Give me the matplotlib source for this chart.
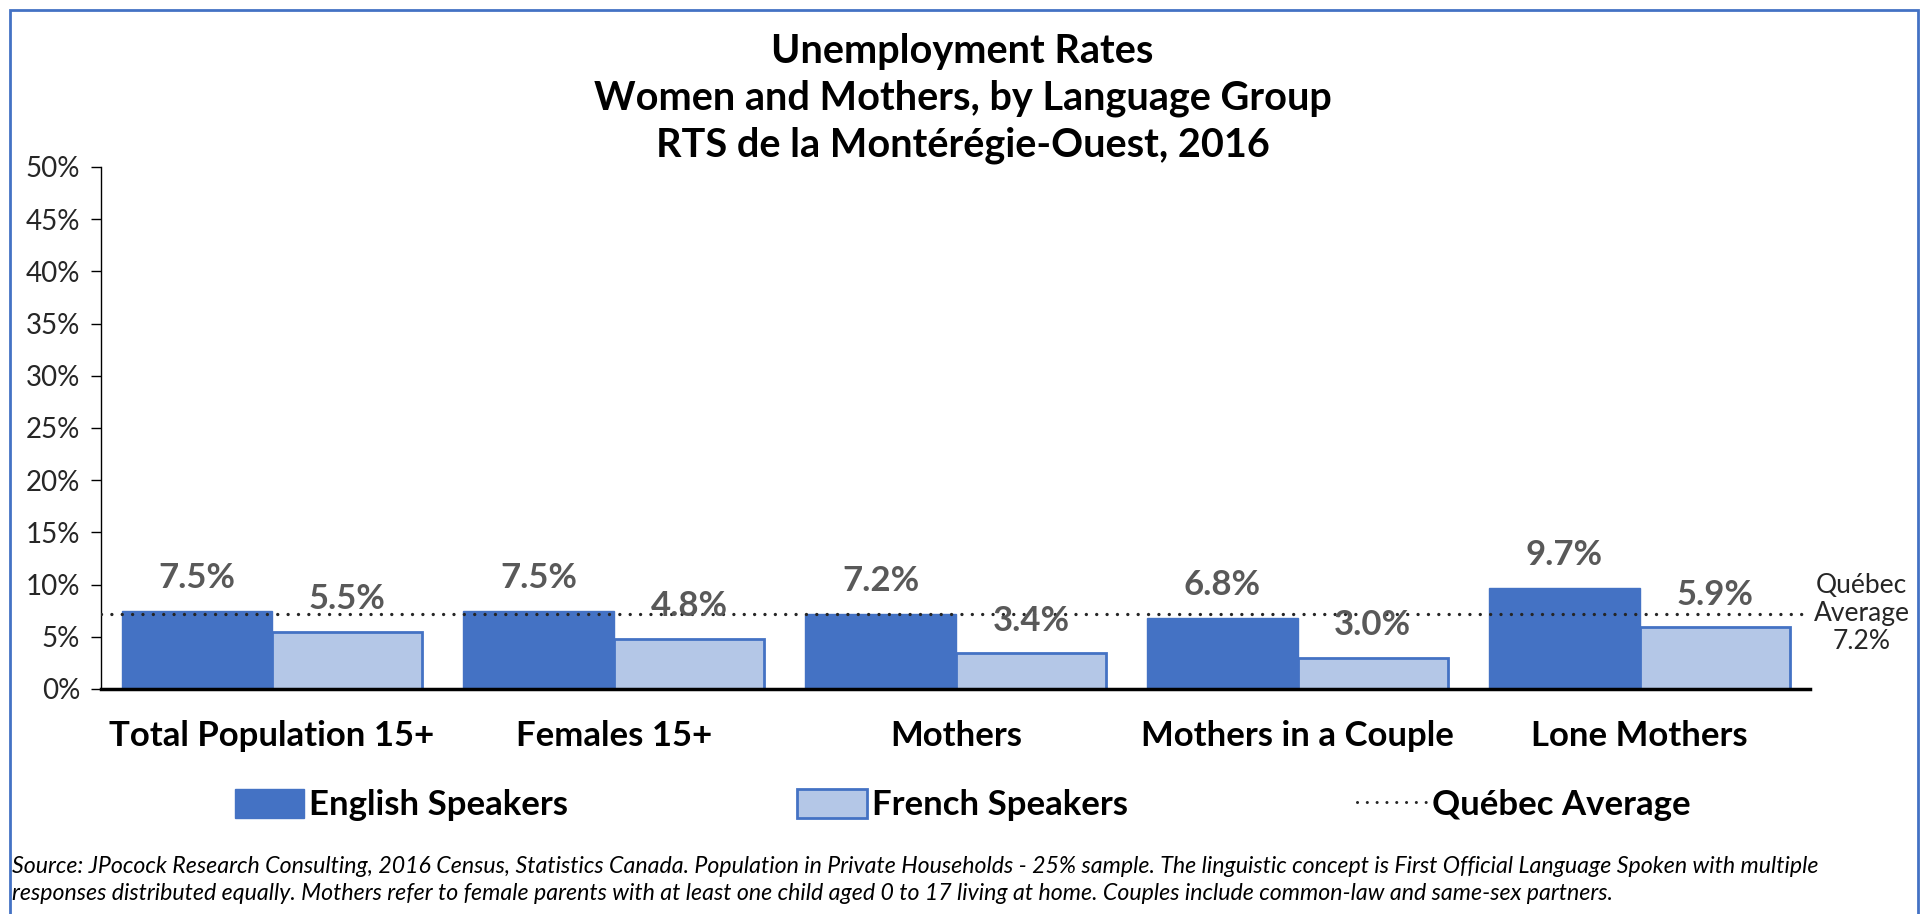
import matplotlib.pyplot as plt
from matplotlib.patches import Rectangle
from matplotlib.lines import Line2D
import numpy as np

plt.rcParams['font.family'] = ['Lato', 'DejaVu Sans']

#chart data
categories = ['Total Population 15+', 'Females 15+', 'Mothers', 'Mothers in a Couple', 'Lone Mothers']
english = [7.5, 7.5, 7.2, 6.8, 9.7]
french = [5.5, 4.8, 3.4, 3.0, 5.9]
quebecAvg = 7.2
yTicks = [0, 5, 10, 15, 20, 25, 30, 35, 40, 45, 50]

blue = '#4472C4'
lightBlue = '#B4C7E7'
labelGray = '#595959'
dark = '#262626'

fig = plt.figure(figsize=(19.25, 9.14), dpi=100)
ax = fig.add_axes([0.0525, 0.2462, 0.888, 0.5711])

x = np.arange(len(categories))
w = 0.44
ax.bar(x - w / 2, english, w, color=blue, edgecolor=blue, linewidth=1, zorder=2)
ax.bar(x + w / 2, french, w, color=lightBlue, edgecolor=blue, linewidth=2, zorder=2)

#value labels
for i in range(len(categories)):
    ax.annotate(f'{english[i]:.1f}%', (x[i] - w / 2, english[i]), xytext=(0, 12), textcoords='offset points',
                ha='center', va='bottom', fontsize=25, fontweight='bold', color=labelGray, zorder=4)
    ax.annotate(f'{french[i]:.1f}%', (x[i] + w / 2, french[i]), xytext=(0, 12), textcoords='offset points',
                ha='center', va='bottom', fontsize=25, fontweight='bold', color=labelGray, zorder=4)

#quebec average line
ax.plot([-0.5, 4.48], [quebecAvg, quebecAvg], linestyle=(0, (0.01, 3.1)), color=dark,
        linewidth=2.4, dash_capstyle='round', zorder=3)
ax.text(4.65, quebecAvg, 'Québec\nAverage\n7.2%', ha='center', va='center', fontsize=19,
        color=dark, linespacing=1.15)

ax.set_xlim(-0.5, 4.5)
ax.set_ylim(0, 50)
ax.set_yticks(yTicks)
ax.set_yticklabels([f'{t}%' for t in yTicks], fontsize=20, color=dark)
ax.set_xticks(x)
ax.set_xticklabels(categories, fontsize=25, fontweight='bold')
ax.tick_params(axis='x', length=0, pad=22)
ax.tick_params(axis='y', length=7, width=1, pad=8)
for s in ['top', 'right']:
    ax.spines[s].set_visible(False)
ax.spines['bottom'].set_linewidth(2.5)
ax.spines['left'].set_linewidth(1)

fig.text(0.5, 1 - 52 / 914, 'Unemployment Rates', ha='center', va='center', fontsize=28.5, fontweight='bold')
fig.text(0.5, 1 - 98 / 914, 'Women and Mothers, by Language Group', ha='center', va='center', fontsize=28.5, fontweight='bold')
fig.text(0.5, 1 - 145 / 914, 'RTS de la Montérégie-Ouest, 2016', ha='center', va='center', fontsize=28.5, fontweight='bold')

#legend
handles = [Rectangle((0, 0), 1, 1, facecolor=blue, edgecolor=blue),
           Rectangle((0, 0), 1, 1, facecolor=lightBlue, edgecolor=blue, linewidth=2),
           Line2D([0], [0], linestyle=(0, (0.01, 3.2)), color=dark, linewidth=2.2, dash_capstyle='round')]
fig.legend(handles, ['English Speakers', 'French Speakers', 'Québec Average'], loc='center',
           bbox_to_anchor=(0.5, 1 - 805 / 914), ncol=3, frameon=False, handlelength=2.0, handleheight=0.9,
           handletextpad=0.15, columnspacing=6.6, prop={'size': 25, 'weight': 'bold'})

src = ('Source: JPocock Research Consulting, 2016 Census, Statistics Canada. Population in Private Households - 25% sample. '
       'The linguistic concept is First Official Language Spoken with multiple\n'
       'responses distributed equally. Mothers refer to female parents with at least one child aged 0 to 17 living at home. '
       'Couples include common-law and same-sex partners.')
fig.text(12 / 1925, 1 - 880 / 914, src, ha='left', va='center', fontsize=16.7, style='italic', linespacing=1.38)

#blue border
fig.patches.append(Rectangle((10 / 1925, -0.02), 1908 / 1925, 1.02 - 10 / 914, transform=fig.transFigure,
                             fill=False, edgecolor=blue, linewidth=2))

fig.savefig('out.png', dpi=100)
